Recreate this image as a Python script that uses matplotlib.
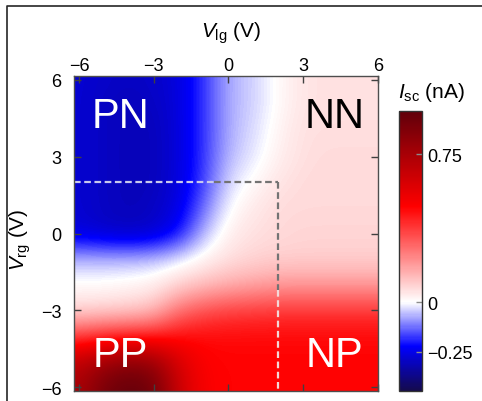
import numpy as np
import matplotlib
matplotlib.use('Agg')
import matplotlib.pyplot as plt
from matplotlib.colors import LinearSegmentedColormap, Normalize
from matplotlib.lines import Line2D

plt.rcParams['font.family'] = ['Liberation Sans', 'DejaVu Sans']
plt.rcParams['mathtext.fontset'] = 'custom'
plt.rcParams['mathtext.rm'] = 'Liberation Sans'
plt.rcParams['mathtext.it'] = 'Liberation Sans:italic'

# Gate voltages of the sampled grid (V)
v_lg = [-6, -5, -4, -3, -2, -1, 0, 1, 2, 3, 4, 5, 6]
v_rg = [6, 5, 4, 3, 2, 1, 0, -1, -2, -3, -4, -5, -6]

# Short-circuit current I_sc (nA), one row per V_rg (top to bottom)
isc_rg_p6 = [-0.28, -0.29, -0.30, -0.29, -0.27, -0.18, -0.07, -0.04, 0.01, 0.05, 0.06, 0.06, 0.06]
isc_rg_p5 = [-0.28, -0.30, -0.31, -0.30, -0.27, -0.18, -0.07, -0.04, 0.01, 0.05, 0.06, 0.06, 0.06]
isc_rg_p4 = [-0.28, -0.30, -0.31, -0.31, -0.27, -0.18, -0.07, -0.03, 0.02, 0.06, 0.06, 0.06, 0.06]
isc_rg_p3 = [-0.28, -0.30, -0.31, -0.31, -0.27, -0.18, -0.06, -0.02, 0.03, 0.06, 0.07, 0.07, 0.07]
isc_rg_p2 = [-0.28, -0.30, -0.31, -0.31, -0.27, -0.17, -0.03, 0.01, 0.05, 0.07, 0.07, 0.07, 0.07]
isc_rg_p1 = [-0.28, -0.30, -0.31, -0.30, -0.26, -0.13, 0.00, 0.04, 0.07, 0.07, 0.07, 0.07, 0.07]
isc_rg_0 = [-0.27, -0.29, -0.30, -0.29, -0.22, -0.06, 0.03, 0.06, 0.07, 0.08, 0.08, 0.08, 0.08]
isc_rg_m1 = [-0.06, -0.06, -0.06, -0.05, -0.02, 0.02, 0.06, 0.08, 0.09, 0.09, 0.09, 0.09, 0.09]
isc_rg_m2 = [0.01, 0.01, 0.02, 0.03, 0.08, 0.12, 0.15, 0.17, 0.19, 0.19, 0.19, 0.19, 0.19]
isc_rg_m3 = [0.07, 0.08, 0.09, 0.12, 0.27, 0.33, 0.36, 0.37, 0.38, 0.38, 0.38, 0.38, 0.38]
isc_rg_m4 = [0.36, 0.40, 0.42, 0.43, 0.46, 0.47, 0.47, 0.47, 0.47, 0.47, 0.47, 0.47, 0.47]
isc_rg_m5 = [0.68, 0.78, 0.84, 0.80, 0.60, 0.49, 0.48, 0.48, 0.48, 0.48, 0.48, 0.48, 0.48]
isc_rg_m6 = [0.74, 0.90, 0.96, 0.92, 0.64, 0.50, 0.48, 0.48, 0.48, 0.48, 0.48, 0.48, 0.48]

# Region labels and the dashed boundary
region_names = ['PN', 'NN', 'PP', 'NP']
region_lg = [-4.35, 4.27, -4.35, 4.27]
region_rg = [4.6, 4.6, -4.75, -4.75]
region_colors = ['white', 'black', 'white', 'white']
boundary_lg = 2.0
boundary_rg = 2.0

ticks = [-6, -3, 0, 3, 6]
cbar_ticks = [-0.25, 0, 0.75]
cbar_labels = ['\u22120.25', '0', '0.75']
vmin, vmax = -0.45, 0.97

isc = np.array([isc_rg_p6, isc_rg_p5, isc_rg_p4, isc_rg_p3, isc_rg_p2, isc_rg_p1,
                isc_rg_0, isc_rg_m1, isc_rg_m2, isc_rg_m3, isc_rg_m4, isc_rg_m5, isc_rg_m6])

# seismic-like map, white at zero on a linear scale
def pos(v):
    return (v - vmin) / (vmax - vmin)

cmap = LinearSegmentedColormap.from_list('isc', [
    (0.0, (0.08, 0.04, 0.30)),
    (pos(-0.225), (0.0, 0.0, 1.0)),
    (pos(0.0), (1.0, 1.0, 1.0)),
    (pos(0.485), (1.0, 0.0, 0.0)),
    (1.0, (0.38, 0.0, 0.04)),
])

fig = plt.figure(figsize=(4.82, 4.02), dpi=100)
ax = fig.add_axes([74 / 482, 1 - 392 / 402, 304 / 482, 315 / 402])

step = 0.5
im = ax.imshow(isc, cmap=cmap, norm=Normalize(vmin, vmax), aspect='auto',
               interpolation='bicubic',
               extent=(v_lg[0] - step, v_lg[-1] + step, v_rg[-1] - step, v_rg[0] + step))
ax.set_xlim(-6.2, 5.9)
ax.set_ylim(-6.15, 6.15)

ax.set_xticks(ticks)
ax.set_yticks(ticks)
ax.set_xticklabels([str(t).replace('-', '\u2212') for t in ticks])
ax.set_yticklabels([str(t).replace('-', '\u2212') for t in ticks])
ax.xaxis.tick_top()
ax.tick_params(axis='both', which='both', direction='in', length=5, width=1,
               color='0.25', labelsize=13, top=True, bottom=True, left=True, right=True)
ax.tick_params(axis='x', pad=1.5, labeltop=True, labelbottom=False)
ax.tick_params(axis='y', pad=9)
for s in ax.spines.values():
    s.set_color('0.3')
    s.set_linewidth(1.0)

# dashed boundary: light over the strong colours, grey over the pale ones
dash = (0, (3, 1.6))
ax.plot([-6.2, -0.6], [boundary_rg, boundary_rg], color='#c8c8ee', lw=1.6, ls=dash)
ax.plot([-0.6, boundary_lg], [boundary_rg, boundary_rg], color='0.45', lw=1.6, ls=dash)
ax.plot([boundary_lg, boundary_lg], [boundary_rg, -2.2], color='0.45', lw=1.6, ls=dash)
ax.plot([boundary_lg, boundary_lg], [-2.2, -6.15], color='#f4d8d8', lw=1.6, ls=dash)

for name, x, y, c in zip(region_names, region_lg, region_rg, region_colors):
    ax.text(x, y, name, color=c, fontsize=30, ha='center', va='center')

fig.text(231 / 482, 1 - 33 / 402, r'$V_{\mathrm{lg}}$ (V)', fontsize=15, ha='center', va='center')
fig.text(20 / 482, 1 - 240 / 402, r'$V_{\mathrm{rg}}$ (V)', fontsize=15, ha='center', va='center',
         rotation=90)

cax = fig.add_axes([399 / 482, 1 - 392 / 402, 23 / 482, 280 / 402])
cb = fig.colorbar(im, cax=cax)
cb.set_ticks(cbar_ticks)
cb.set_ticklabels(cbar_labels)
cb.ax.tick_params(direction='in', length=4, width=1, color='0.55', labelsize=13, pad=4)
cb.outline.set_edgecolor('0.2')
cb.outline.set_linewidth(1.0)
fig.text(398 / 482, 1 - 92 / 402, r'$I_{\mathrm{sc}}$ (nA)', fontsize=15, ha='left', va='center')

# frame of the original figure panel (left and top edges only)
fig.add_artist(Line2D([7 / 482, 7 / 482, 1.0], [0.0, 1 - 7 / 402, 1 - 7 / 402],
                      transform=fig.transFigure, color='0.15', lw=1.2))

fig.savefig('out.png', dpi=100)
